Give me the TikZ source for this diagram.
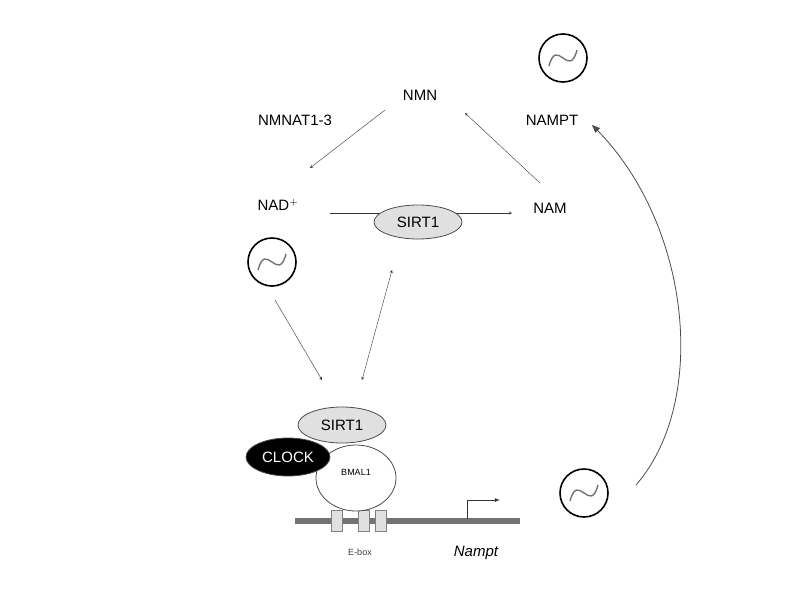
\documentclass[tikz,border=0pt]{standalone}
\usepackage{fontspec}
\setmainfont{Liberation Sans}
\usetikzlibrary{shapes.geometric,arrows,positioning,calc}
\tikzstyle{lbl}=[font=\fontsize{15}{17}\selectfont]
\tikzstyle{prot}=[ellipse,draw=black!70,thick,font=\fontsize{15}{17}\selectfont,inner sep=0pt]
\tikzstyle{osc}=[circle,draw,line width=1.6pt,minimum size=48pt]
\tikzstyle{arrow}=[->,>=stealth,black!80]
\tikzstyle{ebox}=[draw=black!50,fill=black!12,minimum width=11pt,minimum height=21pt,inner sep=0pt]
\begin{document}
\begin{tikzpicture}[x=1pt,y=-1pt]
    \useasboundingbox (0,0) rectangle (800,600);
    \node (nmn) [lbl] at (420,95) {NMN};
    \node (nmnat) [lbl] at (295,120) {NMNAT1-3};
    \node (nampt) [lbl] at (552,120) {NAMPT};
    \node (nad) [lbl] at (278,205) {NAD$^+$};
    \node (nam) [lbl] at (550,208) {NAM};
    \coordinate (nadr) at (330,213);
    \coordinate (naml) at (512,213);
    \coordinate (nmnl) at (385,110);
    \coordinate (nmnr) at (465,113);
    \coordinate (nadt) at (310,168);
    \coordinate (namt) at (540,183);
    % oscillators
    \foreach \n/\x/\y in {otop/563/58,oleft/272/262,obot/584/493}{
      \node (\n) [osc] at (\x,\y) {};
      \draw[black!55,line width=1.4pt] ($(\n)+(-14,8)$) .. controls ($(\n)+(-6,-22)$) and ($(\n)+(6,22)$) .. ($(\n)+(14,-8)$);
    }
    \draw[arrow] (nadr) -- (naml);
    \node (sirta) [prot,fill=black!12,minimum width=88pt,minimum height=34pt] at (418,222) {SIRT1};
    \draw[arrow] (nmnl) -- (nadt);
    \draw[arrow] (namt) -- (nmnr);
    % complex on the promoter
    \draw[line width=6pt,black!55] (295,521) coordinate (dnal) -- (520,521) coordinate (dnar);
    \foreach \x in {337,364,381} \node[ebox] at (\x,521) {};
    \node (bmal) [prot,fill=white,minimum width=80pt,minimum height=66pt] at (356,478) {\raisebox{12pt}{\small BMAL1}};
    \node (clock) [prot,fill=black,text=white,minimum width=84pt,minimum height=38pt] at (288,457) {CLOCK};
    \node (sirtb) [prot,fill=black!12,minimum width=88pt,minimum height=36pt] at (342,425) {SIRT1};
    \node (ebl) [font=\small,black!75] at (360,552) {E-box};
    \node (nampg) [lbl,font=\fontsize{15}{17}\selectfont\itshape] at (476,553) {Nampt};
    \draw[arrow,thick,-latex] (467,519) -- (467,500) -- (500,500);
    \coordinate (otl) at (275,300);
    \coordinate (sbt) at (322,380);
    \coordinate (sat) at (392,270);
    \coordinate (sbu) at (362,380);
    \draw[arrow] (otl) -- (sbt);
    \draw[arrow,<->] (sat) -- (sbu);
    \coordinate (curs) at (636,485);
    \coordinate (cure) at (592,125);
    \draw[black!70,-triangle 45,line width=0.8pt] (curs) .. controls (710,400) and (690,220) .. (cure);
\end{tikzpicture}
\end{document}
